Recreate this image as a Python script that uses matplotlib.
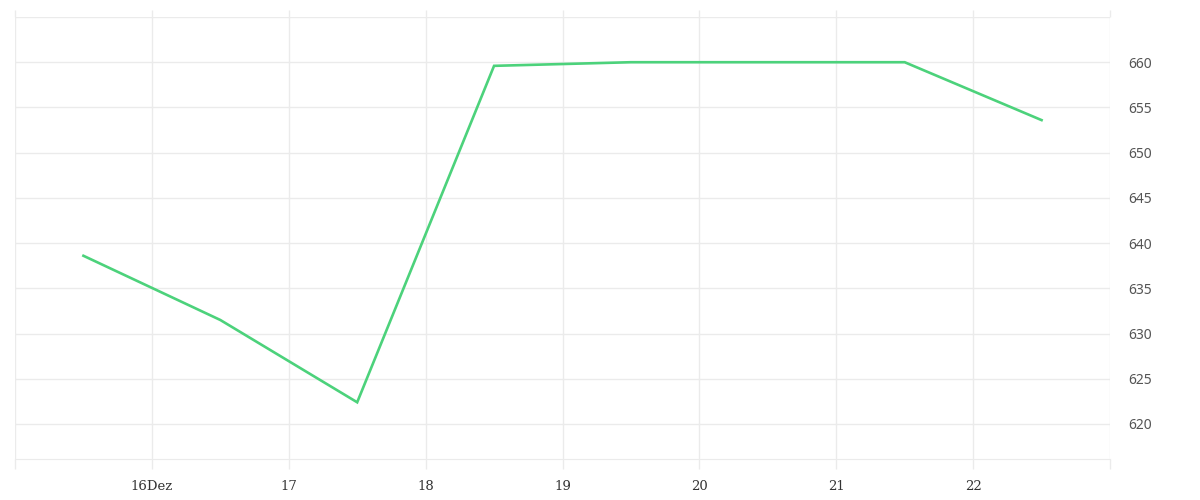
import matplotlib
matplotlib.use("Agg")
import matplotlib.pyplot as plt

plt.rcParams["font.family"] = ["Noto Sans", "DejaVu Sans"]

days = [15.5, 16.5, 17.5, 18.5, 19.5, 20.5, 21.5, 22.5]
values = [638.6, 631.5, 622.4, 659.6, 660.0, 660.0, 660.0, 653.6]
x_ticks = [15, 16, 17, 18, 19, 20, 21, 22, 23]
x_labels = ["", "16Dez", "17", "18", "19", "20", "21", "22", ""]
y_ticks = [620, 625, 630, 635, 640, 645, 650, 655, 660, 665]
y_labels = ["620", "625", "630", "635", "640", "645", "650", "655", "660", ""]

grid_c = "#ebebeb"
fig = plt.figure(figsize=(12, 5), dpi=100)
ax = fig.add_axes([15/1200, 41/500, 1095/1200, 442/500])
ax.plot(days, values, color="#4CD27B", lw=1.9, solid_joinstyle="miter", zorder=3)
ax.set_xlim(15, 23)
ax.set_ylim(616.13, 665)
ax.yaxis.tick_right()
ax.set_xticks(x_ticks)
ax.set_xticklabels(x_labels, family="DejaVu Serif", fontsize=9.5, color="#333333")
ax.set_yticks(y_ticks)
ax.set_yticklabels(y_labels, fontsize=10, color="#555555")
for t in ax.yaxis.get_major_ticks():
    t.label2.set_fontfamily(["Noto Sans"])
    t.label2.set_va("center_baseline")
ax.tick_params(axis="y", length=0, pad=13)
ax.tick_params(axis="x", which="both", bottom=True, top=True, direction="out",
               color=grid_c, width=1, pad=8)
ax.tick_params(axis="x", length=7)
for t in ax.xaxis.get_major_ticks():
    t.tick2line.set_markersize(5)
ax.grid(True, color=grid_c, lw=1)
for s in ["left", "right", "top"]:
    ax.spines[s].set_visible(False)
ax.spines["bottom"].set_color(grid_c)
ax.set_axisbelow(True)
fig.savefig("out.png", dpi=100, facecolor="white")
